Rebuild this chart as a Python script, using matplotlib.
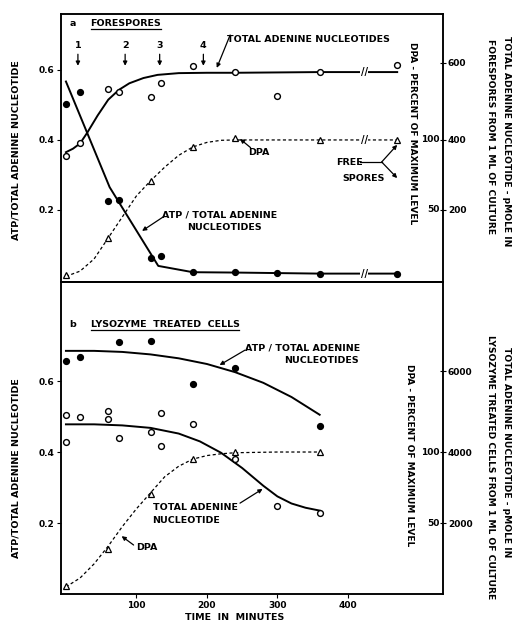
import matplotlib
matplotlib.use("Agg")
import matplotlib.pyplot as plt
from matplotlib.lines import Line2D

plt.rcParams['font.family'] = ['DejaVu Sans']
plt.rcParams['font.weight'] = 'bold'
plt.rcParams['font.size'] = 6.5

# ---- panel a: forespores ----
t_a = [0, 20, 60, 75, 120, 135, 180, 240, 300, 360, 1440]
atp_a = [0.502, 0.536, 0.226, 0.228, 0.063, 0.068, 0.023, 0.023, 0.019, 0.017, 0.018]
tan_a = [0.355, 0.39, 0.545, 0.536, 0.522, 0.564, 0.611, 0.595, 0.525, 0.594, 0.615]
t_dpa_a = [0, 60, 120, 180, 240, 360, 1440]
dpa_a = [0.014, 0.12, 0.283, 0.381, 0.405, 0.40, 0.40]

# hand drawn curves of panel a
tan_a_ct = [0, 10, 20, 30, 45, 60, 75, 90, 110, 130, 160, 200, 240, 360, 1440]
tan_a_cv = [0.365, 0.375, 0.39, 0.42, 0.47, 0.515, 0.543, 0.562, 0.577, 0.586, 0.591, 0.592, 0.592, 0.594, 0.594]
atp_a_ct = [0, 62, 131, 180, 240, 360, 1440]
atp_a_cv = [0.567, 0.265, 0.04, 0.022, 0.021, 0.018, 0.018]
dpa_a_ct = [0, 20, 40, 60, 80, 100, 120, 140, 160, 180, 200, 220, 240, 360, 1440]
dpa_a_cv = [0.01, 0.025, 0.06, 0.12, 0.18, 0.24, 0.283, 0.322, 0.356, 0.38, 0.393, 0.399, 0.40, 0.40, 0.40]

# ---- panel b: lysozyme treated cells ----
t_atp_b = [0, 20, 75, 120, 180, 240, 360]
atp_b = [0.656, 0.669, 0.709, 0.714, 0.591, 0.638, 0.473]
t_tan_b = [0, 0, 20, 60, 60, 75, 120, 135, 135, 180, 240, 300, 360]
tan_b = [0.503, 0.429, 0.50, 0.516, 0.492, 0.44, 0.457, 0.511, 0.418, 0.48, 0.379, 0.248, 0.229]
t_dpa_b = [0, 60, 120, 180, 240, 360]
dpa_b = [0.023, 0.127, 0.283, 0.379, 0.399, 0.40]

atp_b_ct = [0, 40, 80, 120, 160, 200, 240, 280, 320, 360]
atp_b_cv = [0.685, 0.685, 0.682, 0.675, 0.664, 0.648, 0.625, 0.595, 0.555, 0.505]
tan_b_ct = [0, 40, 80, 120, 160, 190, 220, 250, 280, 300, 320, 340, 360]
tan_b_cv = [0.478, 0.478, 0.475, 0.468, 0.452, 0.43, 0.398, 0.355, 0.305, 0.275, 0.255, 0.243, 0.235]
dpa_b_ct = [0, 20, 40, 60, 80, 100, 120, 140, 160, 180, 200, 220, 240, 300, 360]
dpa_b_cv = [0.02, 0.045, 0.085, 0.135, 0.19, 0.24, 0.285, 0.33, 0.36, 0.38, 0.39, 0.395, 0.398, 0.40, 0.40]

x_ticks = [100, 200, 300, 400]
sample_marks = [17, 84, 133, 195]


def squeeze(ts):
    # time axis is broken after 400 min; 1440/1500 drawn just past the break
    return [t if t <= 420 else 470 + (t - 1440) * 0.2 for t in ts]


W, H = 516, 630
fig = plt.figure(figsize=(W / 100, H / 100), dpi=100)
ax_a = fig.add_axes([61 / W, 1 - 282 / H, (443 - 61) / W, (282 - 14) / H])
ax_b = fig.add_axes([61 / W, 1 - 594 / H, (443 - 61) / W, (594 - 282) / H])

solid = dict(color='k', lw=1.4)
dashed = dict(color='k', lw=0.9, linestyle=(0, (2.5, 2)))
filled = dict(ls='none', marker='o', ms=4.2, mfc='k', mec='k', zorder=5)
opened = dict(ls='none', marker='o', ms=4.2, mfc='white', mec='k', mew=1.0, zorder=5)
tri = dict(ls='none', marker='^', ms=4.8, mfc='white', mec='k', mew=0.9, zorder=5)
arr = dict(arrowstyle='-|>', color='k', lw=0.9, mutation_scale=6, shrinkA=0, shrinkB=0)
fs = 6.8

for ax in (ax_a, ax_b):
    ax.set_xlim(-7, 535)
    for s in ax.spines.values():
        s.set_linewidth(1.1)
    ax.tick_params(direction='out', length=3, width=0.8, labelsize=6.5, pad=2)
    ax.set_yticks([0.2, 0.4, 0.6])
    ax.set_yticklabels(['0.2', '0.4', '0.6'])

# panel a
ax_a.set_ylim(-0.006, 0.76)
ax_a.set_xticks(x_ticks + [482])
ax_a.set_xticklabels([str(v) for v in x_ticks] + ['1500'])
ax_a.plot(squeeze(tan_a_ct), tan_a_cv, **solid)
ax_a.plot(squeeze(atp_a_ct), atp_a_cv, **solid)
ax_a.plot(squeeze(dpa_a_ct), dpa_a_cv, **dashed)
ax_a.plot(squeeze(t_a), atp_a, **filled)
ax_a.plot(squeeze(t_a), tan_a, **opened)
ax_a.plot(squeeze(t_dpa_a), dpa_a, **tri)
for v in (tan_a_cv[-1], dpa_a_cv[-1], atp_a_cv[-1]):
    ax_a.text(423, v, '//', ha='center', va='center', fontsize=7, zorder=6,
              bbox=dict(fc='white', ec='none', pad=0.6))

ax_a.text(10, 0.733, 'a', ha='center', va='center', fontsize=fs)
lab_a = ax_a.text(35, 0.733, 'FORESPORES', ha='left', va='center', fontsize=fs)
for i, t in enumerate(sample_marks):
    ax_a.text(t, 0.67, str(i + 1), ha='center', va='center', fontsize=fs)
    ax_a.annotate('', xy=(t, 0.612), xytext=(t, 0.645), arrowprops=arr)
ax_a.text(228, 0.688, 'TOTAL ADENINE NUCLEOTIDES', ha='left', va='center', fontsize=fs)
ax_a.annotate('', xy=(214, 0.606), xytext=(233, 0.70), arrowprops=arr)
ax_a.text(258, 0.363, 'DPA', ha='left', va='center', fontsize=fs)
ax_a.annotate('', xy=(247, 0.403), xytext=(262, 0.378), arrowprops=arr)
ax_a.text(218, 0.186, 'ATP / TOTAL ADENINE', ha='center', va='center', fontsize=fs)
ax_a.text(225, 0.149, 'NUCLEOTIDES', ha='center', va='center', fontsize=fs)
ax_a.annotate('', xy=(108, 0.14), xytext=(138, 0.18), arrowprops=arr)
ax_a.text(384, 0.335, 'FREE', ha='left', va='center', fontsize=fs)
ax_a.text(392, 0.291, 'SPORES', ha='left', va='center', fontsize=fs)
ax_a.plot([417, 448], [0.337, 0.337], color='k', lw=0.9)
ax_a.annotate('', xy=(470, 0.386), xytext=(448, 0.337), arrowprops=arr)
ax_a.annotate('', xy=(470, 0.291), xytext=(448, 0.337), arrowprops=arr)
ax_a.text(492, 0.42, 'DPA - PERCENT OF MAXIMUM LEVEL', rotation=-90,
          ha='center', va='center', fontsize=6.5)
ax_a.text(530, 0.40, '100', ha='right', va='center', fontsize=6.5)
ax_a.text(530, 0.20, '50', ha='right', va='center', fontsize=6.5)

# panel b
ax_b.set_ylim(0, 0.879)
ax_b.set_xticks(x_ticks)
ax_b.set_xticklabels([str(v) for v in x_ticks])
ax_b.plot(atp_b_ct, atp_b_cv, **solid)
ax_b.plot(tan_b_ct, tan_b_cv, **solid)
ax_b.plot(dpa_b_ct, dpa_b_cv, **dashed)
ax_b.plot(t_atp_b, atp_b, **filled)
ax_b.plot(t_tan_b, tan_b, **opened)
ax_b.plot(t_dpa_b, dpa_b, **tri)

ax_b.text(10, 0.758, 'b', ha='center', va='center', fontsize=fs)
lab_b = ax_b.text(35, 0.758, 'LYSOZYME  TREATED  CELLS', ha='left', va='center', fontsize=fs)
ax_b.text(336, 0.693, 'ATP / TOTAL ADENINE', ha='center', va='center', fontsize=fs)
ax_b.text(362, 0.659, 'NUCLEOTIDES', ha='center', va='center', fontsize=fs)
ax_b.annotate('', xy=(218, 0.645), xytext=(254, 0.687), arrowprops=arr)
ax_b.text(123, 0.245, 'TOTAL ADENINE', ha='left', va='center', fontsize=fs)
ax_b.text(123, 0.208, 'NUCLEOTIDE', ha='left', va='center', fontsize=fs)
ax_b.annotate('', xy=(279, 0.296), xytext=(247, 0.256), arrowprops=arr)
ax_b.text(99, 0.13, 'DPA', ha='left', va='center', fontsize=fs)
ax_b.annotate('', xy=(79, 0.163), xytext=(96, 0.138), arrowprops=arr)
ax_b.text(488, 0.39, 'DPA - PERCENT OF MAXIMUM LEVEL', rotation=-90,
          ha='center', va='center', fontsize=6.5)
ax_b.text(530, 0.40, '100', ha='right', va='center', fontsize=6.5)
ax_b.text(530, 0.20, '50', ha='right', va='center', fontsize=6.5)

# right-hand pmole scales
for ax, ticks, labels in ((ax_a, [0.2, 0.4, 0.62], ['200', '400', '600']),
                          (ax_b, [0.2, 0.4, 0.628], ['2000', '4000', '6000'])):
    axr = ax.twinx()
    axr.set_ylim(ax.get_ylim())
    axr.set_yticks(ticks)
    axr.set_yticklabels(labels)
    axr.tick_params(direction='inout', length=5, width=0.8, labelsize=6.5, pad=1)
    for s in axr.spines.values():
        s.set_linewidth(1.1)

# axis titles
for yc in (150, 468):
    fig.text(16 / W, 1 - yc / H, 'ATP/TOTAL ADENINE NUCLEOTIDE', rotation=90,
             ha='center', va='center', fontsize=fs)
fig.text(507 / W, 1 - 141 / H, 'TOTAL ADENINE NUCLEOTIDE - pMOLE IN', rotation=-90,
         ha='center', va='center', fontsize=6.6)
fig.text(490 / W, 1 - 137 / H, 'FORESPORES FROM 1 ML OF CULTURE', rotation=-90,
         ha='center', va='center', fontsize=6.6)
fig.text(507 / W, 1 - 452 / H, 'TOTAL ADENINE NUCLEOTIDE - pMOLE IN', rotation=-90,
         ha='center', va='center', fontsize=6.6)
fig.text(490 / W, 1 - 467 / H, 'LYSOZYME TREATED CELLS FROM 1 ML OF CULTURE', rotation=-90,
         ha='center', va='center', fontsize=6.6)
fig.text(235 / W, 1 - 618 / H, 'TIME  IN  MINUTES', ha='center', va='center', fontsize=fs)

# underline the panel titles
fig.canvas.draw()
r = fig.canvas.get_renderer()
for txt in (lab_a, lab_b):
    bb = txt.get_window_extent(r)
    y = bb.y0 - 1
    fig.add_artist(Line2D([bb.x0 / W, bb.x1 / W], [y / H, y / H],
                          transform=fig.transFigure, color='k', lw=0.9))

fig.savefig('out.png', dpi=100)
